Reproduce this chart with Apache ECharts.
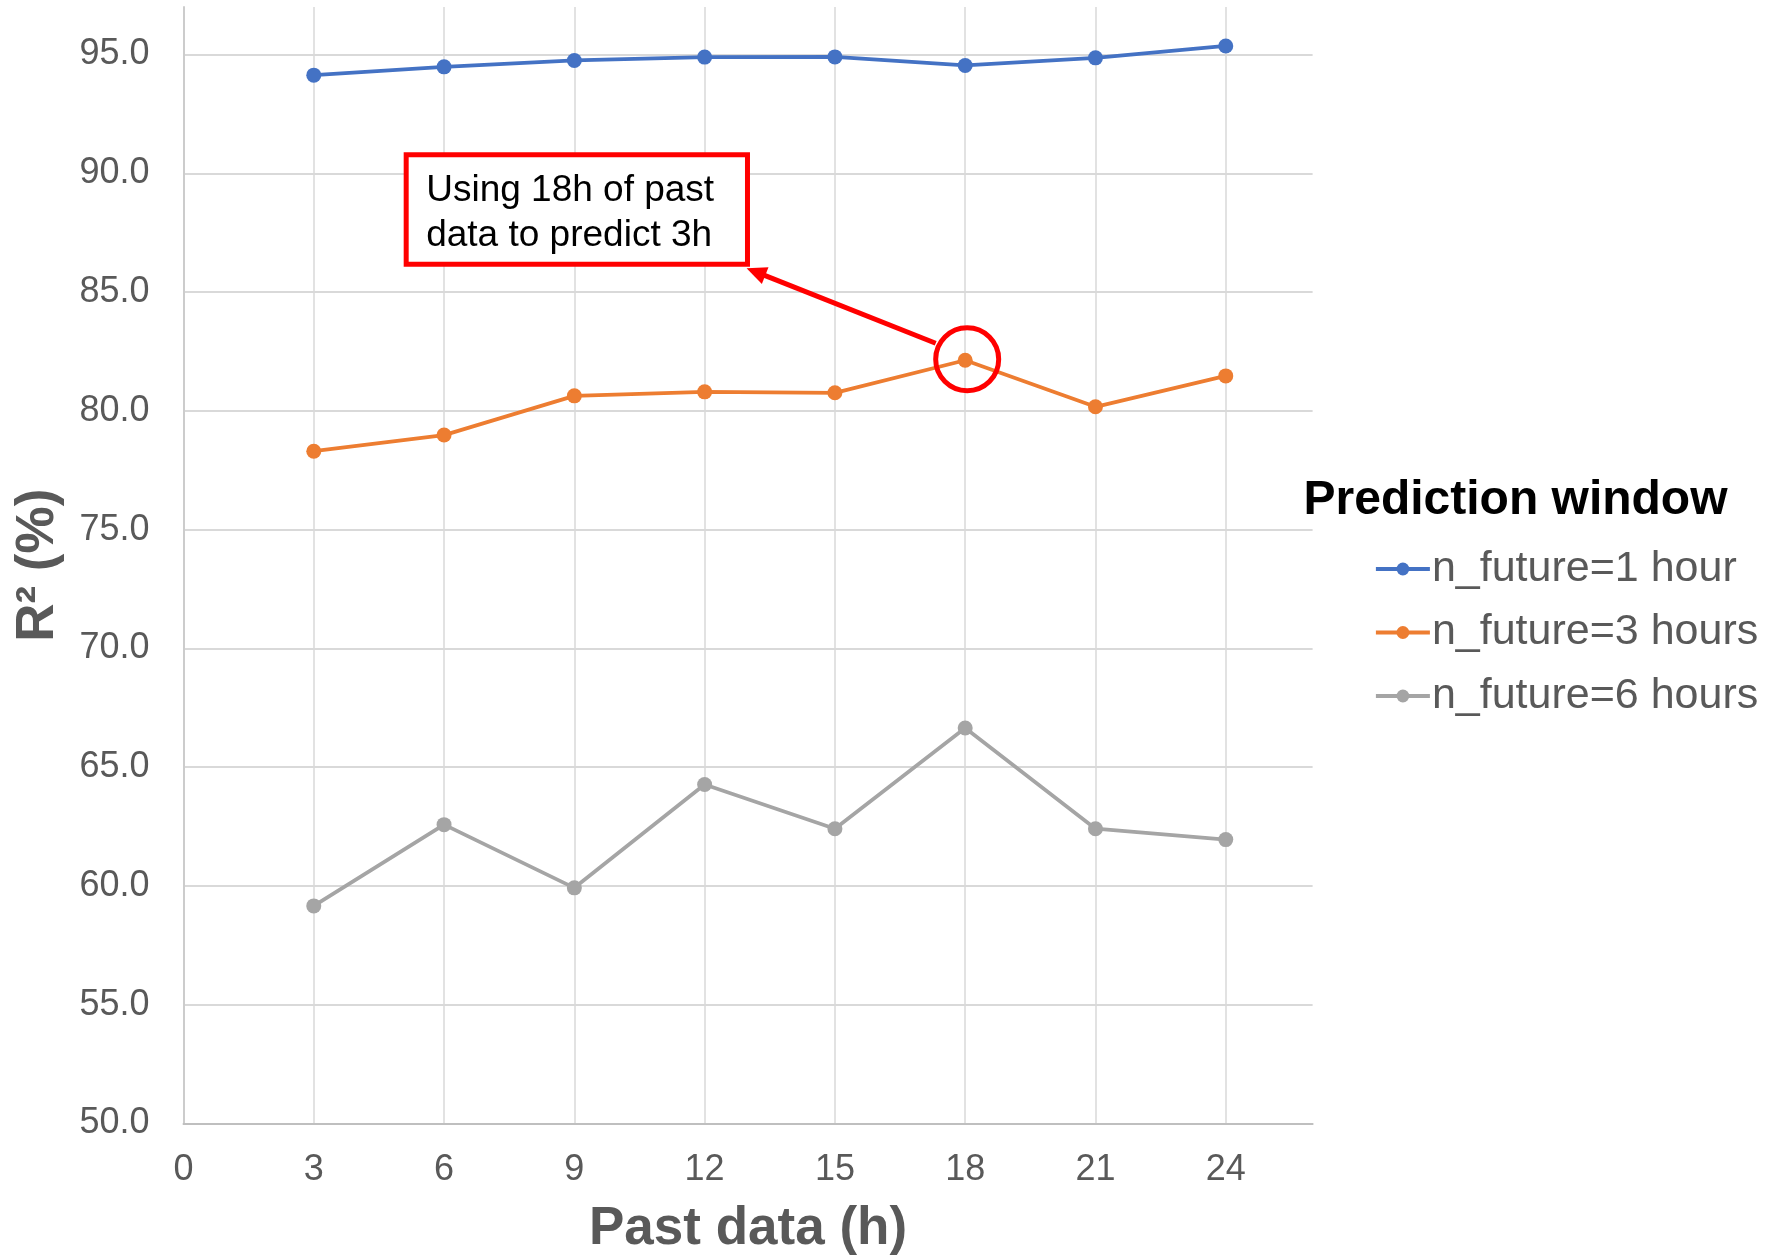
<!DOCTYPE html>
<html>
<head>
<meta charset="utf-8">
<script src="https://cdn.jsdelivr.net/npm/echarts@6/dist/echarts.min.js"></script>
<style>
  html, body { margin: 0; padding: 0; background: #fff; }
  #chart { width: 1765px; height: 1256px; }
</style>
</head>
<body>
<div id="chart"></div>
<script>
// Past data window (hours)
const hours = [3, 6, 9, 12, 15, 18, 21, 24];

// R² (%) for each prediction window
const r2Future1h = [94.13, 94.48, 94.75, 94.89, 94.90, 94.54, 94.86, 95.36];
const r2Future3h = [78.30, 78.98, 80.63, 80.80, 80.76, 82.13, 80.17, 81.47];
const r2Future6h = [59.16, 62.58, 59.92, 64.27, 62.41, 66.65, 62.41, 61.95];

const seriesNames = ['n_future=1 hour', 'n_future=3 hours', 'n_future=6 hours'];
const seriesColors = ['#4472C4', '#ED7D31', '#A5A5A5'];

// Highlighted case: 18h of past data, 3h prediction window
const calloutHour = 18;
const calloutText = 'Using 18h of past\ndata to predict 3h';

const FONT = '"Liberation Sans", Arial, sans-serif';
const GRID = '#d9d9d9';

function pairs(ys) { return hours.map((h, i) => [h, ys[i]]); }

function makeSeries(name, ys, color) {
  return {
    name: name,
    type: 'line',
    data: pairs(ys),
    symbol: 'circle',
    symbolSize: 15,
    lineStyle: { color: color, width: 3.8 },
    itemStyle: { color: color },
    emphasis: { disabled: true },
    animation: false
  };
}

const chart = echarts.init(document.getElementById('chart'), null, { renderer: 'canvas' });

chart.setOption({
  backgroundColor: '#ffffff',
  animation: false,
  textStyle: { fontFamily: FONT },
  grid: { left: 183.5, right: 452.4, top: 7, bottom: 132.5, containLabel: false, outerBoundsMode: 'none' },
  title: {
    text: 'Prediction window',
    left: 1303.5,
    top: 473,
    padding: 0,
    textStyle: { fontFamily: FONT, fontSize: 48, fontWeight: 'bold', color: '#000000', lineHeight: 56 }
  },
  legend: {
    orient: 'vertical',
    left: 1374,
    top: 544,
    padding: 0,
    itemWidth: 54,
    itemHeight: 16,
    itemGap: 13.5,
    data: seriesNames,
    lineStyle: { width: 3.8 },
    textStyle: { fontFamily: FONT, fontSize: 43, color: '#595959', lineHeight: 50, padding: [0, 0, 0, -3] }
  },
  xAxis: {
    type: 'value',
    min: 0,
    max: 26,
    interval: 3,
    name: 'Past data (h)',
    nameLocation: 'middle',
    nameGap: 76,
    nameTextStyle: { fontFamily: FONT, fontSize: 53, fontWeight: 'bold', color: '#595959', lineHeight: 60 },
    axisLine: { show: true, lineStyle: { color: '#bfbfbf', width: 2 } },
    axisTick: { show: false },
    axisLabel: { fontFamily: FONT, fontSize: 36, color: '#595959', margin: 27, lineHeight: 40, showMaxLabel: false },
    splitLine: {
      show: true,
      lineStyle: {
        width: 1.5,
        color: [GRID, GRID, GRID, GRID, GRID, GRID, GRID, GRID, GRID, 'rgba(0,0,0,0)']
      }
    }
  },
  yAxis: {
    type: 'value',
    min: 50,
    max: 97,
    interval: 5,
    name: 'R² (%)',
    nameLocation: 'middle',
    nameGap: 95,
    nameTextStyle: { fontFamily: FONT, fontSize: 53, fontWeight: 'bold', color: '#595959', lineHeight: 60 },
    axisLine: { show: true, lineStyle: { color: '#cccccc', width: 2 } },
    axisTick: { show: false },
    axisLabel: {
      fontFamily: FONT, fontSize: 36, color: '#595959', margin: 34, showMaxLabel: false,
      formatter: v => v.toFixed(1)
    },
    splitLine: {
      show: true,
      lineStyle: {
        width: 2,
        color: [GRID, GRID, GRID, GRID, GRID, GRID, GRID, GRID, GRID, GRID, 'rgba(0,0,0,0)']
      }
    }
  },
  series: [
    makeSeries(seriesNames[0], r2Future1h, seriesColors[0]),
    makeSeries(seriesNames[1], r2Future3h, seriesColors[1]),
    makeSeries(seriesNames[2], r2Future6h, seriesColors[2])
  ]
});

// Callout: circle around the highlighted point, arrow to a boxed note
const idx = hours.indexOf(calloutHour);
const P = chart.convertToPixel({ gridIndex: 0 }, [calloutHour, r2Future3h[idx]]);
const cx = P[0] + 2, cy = P[1] - 1;

const start = [P[0] - 29.5, P[1] - 17];
const tip = [P[0] - 218.6, P[1] - 92];
const dx = tip[0] - start[0], dy = tip[1] - start[1];
const len = Math.hypot(dx, dy);
const ux = dx / len, uy = dy / len;
const headLen = 20, headHalf = 9;
const base = [tip[0] - ux * headLen, tip[1] - uy * headLen];
const nx = -uy, ny = ux;

const boxLeft = P[0] - 561.5, boxTop = P[1] - 208, boxW = 346.3, boxH = 114.4, bw = 5;

chart.setOption({
  graphic: [
    {
      type: 'circle', silent: true, z: 100,
      shape: { cx: cx, cy: cy, r: 31.5 },
      style: { fill: 'none', stroke: '#FF0000', lineWidth: 5 }
    },
    {
      type: 'line', silent: true, z: 100,
      shape: { x1: start[0], y1: start[1], x2: base[0] + ux * 2, y2: base[1] + uy * 2 },
      style: { stroke: '#FF0000', lineWidth: 5 }
    },
    {
      type: 'polygon', silent: true, z: 100,
      shape: { points: [tip, [base[0] + nx * headHalf, base[1] + ny * headHalf], [base[0] - nx * headHalf, base[1] - ny * headHalf]] },
      style: { fill: '#FF0000' }
    },
    {
      type: 'rect', silent: true, z: 100,
      shape: { x: boxLeft + bw / 2, y: boxTop + bw / 2, width: boxW - bw, height: boxH - bw },
      style: { fill: '#ffffff', stroke: '#FF0000', lineWidth: bw }
    },
    {
      type: 'text', silent: true, z: 101,
      x: boxLeft + 22.5,
      y: boxTop + 16.5,
      style: {
        text: calloutText,
        font: '37px ' + FONT,
        lineHeight: 45,
        fill: '#000000',
        align: 'left',
        verticalAlign: 'top'
      }
    }
  ]
});
</script>
</body>
</html>
